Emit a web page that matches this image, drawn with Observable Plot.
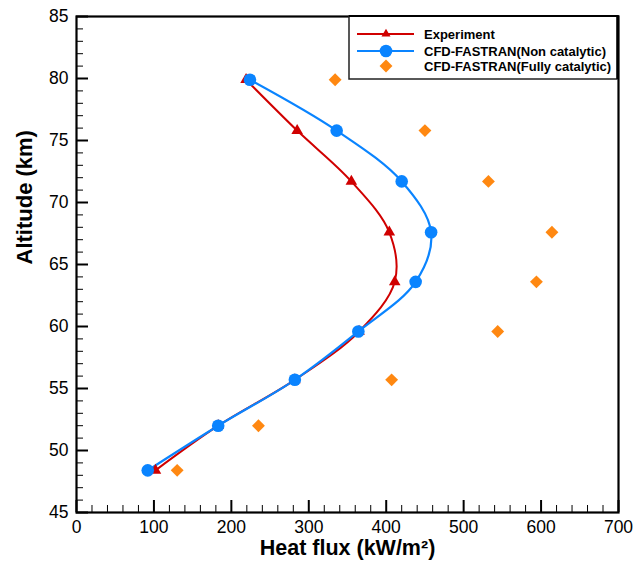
<!DOCTYPE html>
<html>
<head>
<meta charset="utf-8">
<script src="https://cdn.jsdelivr.net/npm/d3@7"></script>
<script src="https://cdn.jsdelivr.net/npm/@observablehq/plot@0.6"></script>
<style>
  html, body { margin: 0; padding: 0; background: #fff; }
  svg { display: block; }
</style>
</head>
<body>
<div id="chart"></div>
<script>
// Data
const altitude = [79.9, 75.8, 71.7, 67.6, 63.6, 59.6, 55.7, 52.0, 48.4];
const experiment = [219, 285, 355, 404, 411, 365, 282, 183, 102];
const nonCatalytic = [224, 336, 420, 458, 438, 364, 282, 183, 92];
const fullyCatalytic = [334, 450, 532, 614, 594, 544, 407, 235, 130];

const seriesNames = ["Experiment", "CFD-FASTRAN(Non catalytic)", "CFD-FASTRAN(Fully catalytic)"];
const xTicks = [0, 100, 200, 300, 400, 500, 600, 700];
const yTicks = [45, 50, 55, 60, 65, 70, 75, 80, 85];
const xMinor = d3.range(0, 701, 20).filter(v => v % 100 !== 0);
const yMinor = d3.range(45, 86, 1).filter(v => v % 5 !== 0);

const RED = "#d00000", BLUE = "#0a84ff", ORANGE = "#ff8811";
const FONT = "'Liberation Sans', Arial, Helvetica, sans-serif";

const expData = altitude.map((a, i) => ({alt: a, flux: experiment[i]}));
const ncData = altitude.map((a, i) => ({alt: a, flux: nonCatalytic[i]}));
const fcData = altitude.map((a, i) => ({alt: a, flux: fullyCatalytic[i]}));

const empty = () => "";

const plot = Plot.plot({
  width: 644,
  height: 564,
  marginLeft: 76,
  marginRight: 26,
  marginTop: 16,
  marginBottom: 52,
  style: {fontFamily: FONT, background: "#fff", color: "#000"},
  x: {domain: [0, 700]},
  y: {domain: [45, 85]},
  marks: [
    // minor ticks (inward)
    Plot.axisY({ticks: yMinor, tickSize: 7, dx: 7, tickFormat: empty, label: null, strokeWidth: 1}),
    Plot.axisX({ticks: xMinor, tickSize: 7, dy: -7, tickFormat: empty, label: null, strokeWidth: 1}),
    // major ticks (inward)
    Plot.axisY({ticks: yTicks, tickSize: 12, dx: 12, tickFormat: empty, label: null, strokeWidth: 2}),
    Plot.axisX({ticks: xTicks, tickSize: 12, dy: -12, tickFormat: empty, label: null, strokeWidth: 2}),
    // tick labels
    Plot.axisY({ticks: yTicks, tickSize: 0, tickPadding: 8, fontSize: 17.5, label: null}),
    Plot.axisX({ticks: xTicks, tickSize: 0, tickPadding: 8, fontSize: 17.5, label: null}),
    // axis titles
    Plot.text(["Altitude (km)"], {frameAnchor: "left", dx: -52, rotate: -90, fontSize: 22, fontWeight: "bold", text: d => d}),
    Plot.text(["Heat flux (kW/m²)"], {frameAnchor: "bottom", dy: 42, fontSize: 21.5, fontWeight: "bold", text: d => d}),
    // series
    Plot.line(expData, {x: "flux", y: "alt", stroke: RED, strokeWidth: 2, curve: "catmull-rom"}),
    Plot.line(ncData, {x: "flux", y: "alt", stroke: BLUE, strokeWidth: 2.2, curve: "catmull-rom"}),
    Plot.dot(expData, {x: "flux", y: "alt", symbol: "triangle", r: 4.3, fill: RED, stroke: "none"}),
    Plot.dot(ncData, {x: "flux", y: "alt", symbol: "circle", r: 6.3, fill: BLUE, stroke: "none"}),
    Plot.dot(fcData, {x: "flux", y: "alt", symbol: "diamond2", r: 5.8, fill: ORANGE, stroke: "none"}),
    Plot.frame({stroke: "#000", strokeWidth: 2.2})
  ]
});

document.getElementById("chart").appendChild(plot);

// Legend (top-right, inside the frame)
const svg = d3.select(plot);
const lg = svg.append("g").attr("font-family", FONT).attr("text-anchor", "start");
lg.append("rect")
  .attr("x", 349).attr("y", 16).attr("width", 268).attr("height", 63)
  .attr("fill", "#fff").attr("stroke", "#222").attr("stroke-width", 1.5);
// redraw frame top/right edges over legend box
lg.append("path").attr("d", "M349,16H617.7V79").attr("fill", "none").attr("stroke", "#000").attr("stroke-width", 2.2);

const legendItems = [
  {name: seriesNames[0], color: RED, line: true, sym: d3.symbolTriangle2, size: Math.PI * 4.3 * 4.3, y: 34},
  {name: seriesNames[1], color: BLUE, line: true, sym: d3.symbolCircle, size: Math.PI * 6.3 * 6.3, y: 51},
  {name: seriesNames[2], color: ORANGE, line: false, sym: d3.symbolDiamond2, size: Math.PI * 5.8 * 5.8, y: 66}
];
for (const it of legendItems) {
  if (it.line) {
    lg.append("line").attr("x1", 357).attr("x2", 414).attr("y1", it.y).attr("y2", it.y)
      .attr("stroke", it.color).attr("stroke-width", 2.2);
  }
  lg.append("path").attr("d", d3.symbol(it.sym, it.size)())
    .attr("transform", `translate(386,${it.y})`).attr("fill", it.color);
  lg.append("text").attr("x", 424).attr("y", it.y).attr("dy", "0.35em")
    .attr("text-anchor", "start")
    .attr("font-size", 13).attr("font-weight", "bold").attr("fill", "#000")
    .text(it.name);
}
</script>
</body>
</html>
